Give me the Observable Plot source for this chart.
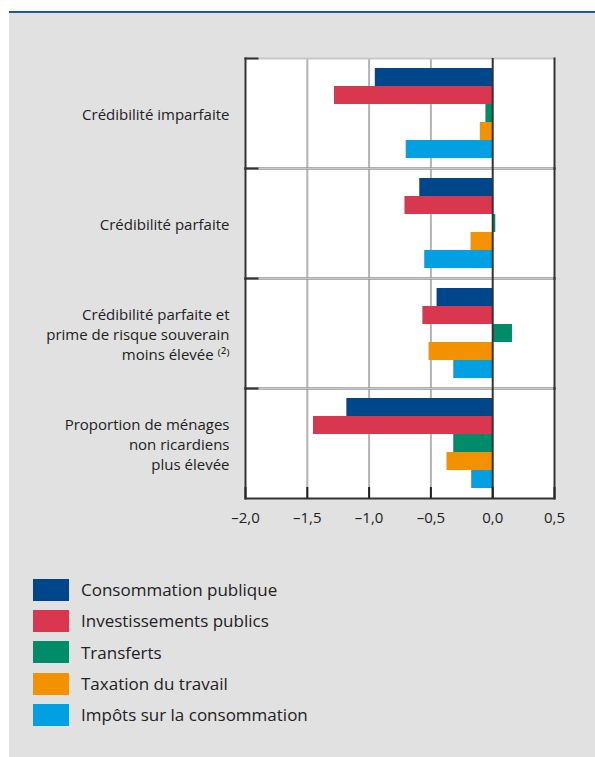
<!DOCTYPE html>
<html><head><meta charset="utf-8">
<script src="https://cdn.jsdelivr.net/npm/d3@7"></script>
<script src="https://cdn.jsdelivr.net/npm/@observablehq/plot@0.6"></script>
<style>
body{margin:0;background:#fff;font-family:"Open Sans",sans-serif;}
#panel{position:absolute;left:9px;top:11px;width:586px;height:746px;border-top:2px solid #1d5b9b;background:#e1e1e1;}
#chart{position:absolute;left:0;top:27px;}
#legend{position:absolute;left:24px;top:561px;}
.row{display:flex;align-items:center;height:31.3px;}
.sw{width:36px;height:22px;margin-right:12px;flex:none;}
.lab{font-size:17px;color:#222;white-space:nowrap;}
</style>
</head><body>
<div id="panel"><div id="chart"></div><div id="legend"></div></div>
<script>
const groups = [
  "Crédibilité imparfaite",
  "Crédibilité parfaite",
  "Crédibilité parfaite et\nprime de risque souverain\nmoins élevée ⁽²⁾",
  "Proportion de ménages\nnon ricardiens\nplus élevée"
];
const series = ["Consommation publique", "Investissements publics", "Transferts", "Taxation du travail", "Impôts sur la consommation"];
const colors = ["#00468b", "#d9374f", "#008c68", "#f29200", "#00a0e2"];
const consommationPublique = [-0.95, -0.59, -0.45, -1.18];
const investissementsPublics = [-1.28, -0.71, -0.565, -1.45];
const transferts = [-0.055, 0.025, 0.16, -0.315];
const taxationTravail = [-0.10, -0.175, -0.515, -0.37];
const impotsConsommation = [-0.70, -0.55, -0.315, -0.17];
const xTicks = [-2, -1.5, -1, -0.5, 0, 0.5];
const xTickLabels = ["–2,0", "–1,5", "–1,0", "–0,5", "0,0", "0,5"];

const valuesBySeries = [consommationPublique, investissementsPublics, transferts, taxationTravail, impotsConsommation];
const data = groups.flatMap((g, i) => series.map((s, j) => ({group: g, series: s, value: valuesBySeries[j][i]})));
const gridX = xTicks.filter(v => v !== 0 && v !== xTicks[0] && v !== xTicks[xTicks.length - 1]);

const chart = Plot.plot({
  width: 586, height: 500,
  marginLeft: 236, marginRight: 41, marginTop: 17, marginBottom: 41,
  style: {background: "transparent", fontFamily: "'Open Sans', sans-serif", color: "#222"},
  x: {domain: [xTicks[0], xTicks[xTicks.length - 1]], axis: null},
  y: {domain: series, paddingInner: 0, paddingOuter: 0.49, axis: null},
  fy: {domain: groups, padding: 0, axis: null},
  color: {domain: series, range: colors},
  marks: [
    Plot.frame({fill: "white", stroke: null}),
    Plot.ruleX(gridX, {stroke: "#b3b3b3", strokeWidth: 2}),
    Plot.frame({anchor: "bottom", stroke: "#333", strokeWidth: 2}),
    Plot.frame({anchor: "top", stroke: "#c8c8c8", strokeWidth: 2}),
    Plot.frame({anchor: "top", stroke: "#333", strokeWidth: 2, insetRight: 297}),
    Plot.frame({anchor: "left", stroke: "#333", strokeWidth: 2}),
    Plot.frame({anchor: "right", stroke: "#333", strokeWidth: 2}),
    Plot.barX(data, {fy: "group", y: "series", x: "value", fill: "series"}),
    Plot.ruleX([0], {stroke: "#333", strokeWidth: 2}),
    Plot.axisFy({anchor: "left", tickSize: 0, tickPadding: 16, fontSize: 15, lineHeight: 1.32, label: null, fill: "#222"}),
    Plot.axisX(xTicks, {anchor: "bottom", tickSize: -11, stroke: "#222", strokeWidth: 2, tickFormat: () => "", label: null}),
    Plot.axisX(xTicks, {anchor: "bottom", tickSize: 0, tickPadding: 14, fontSize: 15, fill: "#222", label: null,
      tickFormat: d => xTickLabels[xTicks.indexOf(d)]})
  ]
});
document.getElementById("chart").appendChild(chart);

const legend = document.getElementById("legend");
series.forEach((s, i) => {
  const row = document.createElement("div");
  row.className = "row";
  const sw = document.createElement("div");
  sw.className = "sw";
  sw.style.background = colors[i];
  const lab = document.createElement("span");
  lab.className = "lab";
  lab.textContent = s;
  row.appendChild(sw); row.appendChild(lab);
  legend.appendChild(row);
});
</script>
</body></html>
